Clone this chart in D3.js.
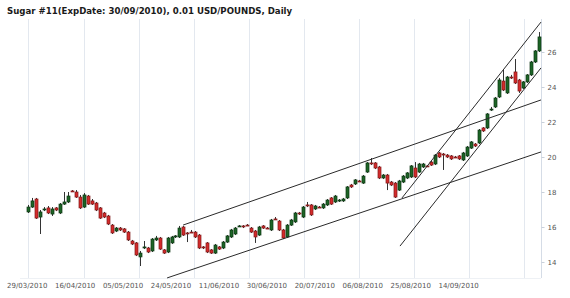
<!DOCTYPE html>
<html>
<head>
<meta charset="utf-8">
<script src="https://cdn.jsdelivr.net/npm/d3@7"></script>
<style>
  html, body { margin: 0; padding: 0; background: #fff; }
  svg { display: block; }
</style>
</head>
<body>
<svg id="chart" width="570" height="298"></svg>
<script>
// ---- data ----
const titleText = "Sugar #11(ExpDate: 30/09/2010), 0.01 USD/POUNDS, Daily";
const tickDates = ["29/03/2010","16/04/2010","05/05/2010","24/05/2010","11/06/2010","30/06/2010","20/07/2010","06/08/2010","25/08/2010","14/09/2010"];
const tickIndex = [0,12,24,36,48,60,72,84,96,108];
const yTicks = [14,16,18,20,22,24,26];

const openV = [16.86,17.14,17.60,16.57,17.00,17.09,16.74,17.09,16.80,17.31,17.43,18.06,18.00,17.71,17.14,17.77,17.49,17.37,17.09,16.80,
16.63,16.11,15.77,15.94,15.89,15.71,15.20,15.09,14.29,14.83,14.80,14.63,15.26,15.37,14.69,14.57,15.09,15.46,15.43,16.00,
15.66,15.71,15.71,15.54,14.86,15.09,14.69,14.51,14.86,14.80,15.14,15.43,15.60,16.03,16.06,16.11,15.94,15.77,15.54,16.06,
15.94,15.83,16.46,16.34,15.83,15.43,16.11,16.29,16.80,16.57,17.26,17.26,17.03,17.14,17.09,17.26,17.66,17.43,17.51,17.49,
17.66,18.40,18.46,18.63,18.51,19.14,19.66,19.66,19.43,18.80,18.97,18.57,18.51,18.11,18.57,18.80,18.86,19.37,19.14,19.43,
19.49,19.71,19.60,20.23,20.17,20.11,20.06,20.00,20.06,19.83,20.06,20.51,20.74,20.80,21.66,21.66,22.71,22.86,23.43,24.34,
23.66,24.57,24.86,24.40,23.94,24.29,24.69,25.43,26.06];
const highV = [17.26,17.66,17.66,16.97,17.14,17.20,17.14,17.14,17.37,18.00,18.00,18.11,18.11,17.83,17.94,17.83,17.60,17.43,17.14,16.86,
16.69,16.17,16.00,16.00,15.94,15.77,15.26,15.14,14.63,15.20,14.86,15.37,15.49,15.43,14.74,15.43,15.49,15.54,16.06,16.06,
15.71,15.83,15.77,15.60,14.91,15.14,14.74,15.03,14.91,15.20,15.54,15.89,16.00,16.11,16.11,16.17,16.00,15.83,16.06,16.11,
16.00,16.46,16.57,16.40,15.89,16.17,16.46,16.86,16.86,17.20,17.43,17.31,17.26,17.20,17.37,17.60,17.71,17.83,17.60,17.66,
18.34,18.46,18.74,18.69,18.97,19.71,19.94,19.71,19.49,19.03,19.03,18.63,18.57,18.69,18.97,19.14,19.54,19.71,19.66,19.66,
19.54,19.77,20.17,20.29,20.23,20.17,20.11,20.06,20.11,20.29,20.63,20.91,20.80,21.60,21.71,22.51,22.86,23.43,24.51,24.97,
24.63,24.69,25.60,24.46,24.34,24.74,25.49,26.11,27.14];
const lowV = [16.80,17.09,16.46,15.60,16.91,16.74,16.63,16.91,16.74,17.26,17.37,18.00,17.66,17.03,17.09,17.26,17.26,16.91,16.46,16.51,
16.11,15.60,15.71,15.77,15.66,15.20,14.97,14.34,13.77,14.74,14.51,14.57,15.20,14.69,14.46,14.51,15.03,15.37,15.37,15.49,
15.14,15.66,15.37,14.74,14.74,14.51,14.46,14.46,14.69,14.74,15.09,15.37,15.54,16.00,15.94,16.06,15.66,15.09,15.49,15.89,
15.89,15.77,16.40,15.77,15.31,15.37,16.06,16.23,16.69,16.51,17.14,16.63,16.97,17.09,17.03,17.20,17.26,17.37,17.43,17.43,
17.60,18.23,18.40,18.57,18.46,19.09,19.54,19.31,18.74,18.74,18.11,18.34,17.66,18.06,18.51,18.74,18.80,18.80,19.09,19.37,
19.43,19.49,19.54,19.94,19.26,19.94,19.83,19.94,19.83,19.77,20.00,20.46,20.57,20.74,21.43,21.60,22.63,22.80,23.37,23.77,
23.60,24.46,24.17,23.66,23.89,24.23,24.63,25.37,26.00];
const closeV = [17.14,17.49,16.51,16.86,17.03,16.80,17.03,16.97,17.31,17.43,17.77,18.03,17.71,17.09,17.83,17.31,17.31,16.97,16.51,16.57,
16.17,15.66,15.94,15.83,15.71,15.26,15.03,14.40,14.51,14.86,14.57,15.31,15.37,14.74,14.51,15.37,15.43,15.49,15.94,15.54,
15.63,15.69,15.43,14.80,14.83,14.57,14.51,14.97,14.74,15.14,15.49,15.83,15.94,16.06,16.03,16.09,15.71,15.43,16.00,15.94,
15.91,16.40,16.43,15.83,15.37,16.11,16.40,16.80,16.77,17.14,17.23,16.69,17.20,17.11,17.31,17.54,17.31,17.77,17.54,17.60,
18.29,18.29,18.69,18.60,18.91,19.66,19.63,19.37,18.80,18.97,18.51,18.40,17.71,18.63,18.91,19.09,19.49,18.86,19.60,19.60,
19.46,19.54,20.11,20.00,20.14,20.00,19.89,19.97,19.89,20.23,20.57,20.86,20.63,21.54,21.49,22.46,22.74,23.37,24.40,23.83,
24.57,24.54,24.23,23.77,24.29,24.69,25.43,26.06,26.86];

// trend lines drawn on the chart: [startIndex, startValue, endIndex, endValue]
const trendLines = [
  [38.9, 16.11, 128.5, 23.26],
  [34.9, 13.09, 128.5, 20.29],
  [93.7, 17.66, 128.5, 27.71],
  [93.2, 14.91, 128.5, 25.09]
];
// vertical grid every ~13.8 bars
const gridIndex = [0.2, 14.0, 27.8, 41.6, 55.4, 69.1, 82.9, 96.7, 110.5, 124.3];

// ---- chart ----
const plot = {left: 20, right: 541, top: 19, bottom: 278};
const svg = d3.select("#chart");

const data = openV.map((o, i) => ({i, o, h: highV[i], l: lowV[i], c: closeV[i]}));

const x = d3.scaleLinear().domain([0, data.length - 1]).range([27.7, 539]);
const y = d3.scaleLinear().domain([14, 26]).range([262, 52]);

// title
svg.append("text")
  .attr("x", 7).attr("y", 14)
  .attr("font-family", "Verdana, 'DejaVu Sans', sans-serif")
  .attr("font-size", "8.6px").attr("font-weight", "bold")
  .attr("fill", "#1a1a1a")
  .text(titleText);

// grid
svg.append("g").selectAll("line").data(gridIndex).join("line")
  .attr("x1", d => Math.round(x(d)) + 0.5).attr("x2", d => Math.round(x(d)) + 0.5)
  .attr("y1", plot.top).attr("y2", plot.bottom)
  .attr("stroke", "#e3e8ef").attr("stroke-width", 1);

// right axis line
svg.append("line")
  .attr("x1", plot.right + 0.5).attr("x2", plot.right + 0.5)
  .attr("y1", plot.top).attr("y2", plot.bottom)
  .attr("stroke", "#d5dce6");
svg.append("line")
  .attr("x1", plot.left).attr("x2", plot.right)
  .attr("y1", plot.bottom + 0.5).attr("y2", plot.bottom + 0.5)
  .attr("stroke", "#eef1f5");

// y axis (right)
const yAxis = d3.axisRight(y).tickValues(yTicks).tickSize(3).tickPadding(3).tickFormat(d3.format("d"));
const gy = svg.append("g").attr("transform", `translate(${plot.right + 0.5},0)`).call(yAxis);
gy.select(".domain").remove();
gy.selectAll("line").attr("stroke", "#c9d0da");
gy.selectAll("text").attr("font-family", "Verdana, 'DejaVu Sans', sans-serif")
  .attr("font-size", "7px").attr("fill", "#555");

// x axis (bottom)
const xAxis = d3.axisBottom(x).tickValues(tickIndex).tickSize(0).tickPadding(5)
  .tickFormat((d, k) => tickDates[k]);
const gx = svg.append("g").attr("transform", `translate(-1,${plot.bottom})`).call(xAxis);
gx.select(".domain").remove();
gx.selectAll("text").attr("font-family", "Verdana, 'DejaVu Sans', sans-serif")
  .attr("font-size", "7px").attr("fill", "#555");

// candles
const cg = svg.append("g");
cg.selectAll("line.wick").data(data).join("line")
  .attr("class", "wick")
  .attr("x1", d => Math.round(x(d.i)) + 0.5).attr("x2", d => Math.round(x(d.i)) + 0.5)
  .attr("y1", d => y(d.h)).attr("y2", d => y(d.l))
  .attr("stroke", "#333").attr("stroke-width", 1);

cg.selectAll("rect").data(data).join("rect")
  .attr("x", d => Math.round(x(d.i)) - 1)
  .attr("width", 3)
  .attr("y", d => Math.min(y(d.o), y(d.c)))
  .attr("height", d => Math.max(1, Math.abs(y(d.o) - y(d.c))))
  .attr("fill", d => d.c >= d.o ? "#1c6526" : "#d42b2b")
  .attr("stroke", d => d.c >= d.o ? "#0c3512" : "#7e1818")
  .attr("stroke-width", 0.7);

// trend lines
svg.append("g").selectAll("line").data(trendLines).join("line")
  .attr("x1", d => x(d[0])).attr("y1", d => y(d[1]))
  .attr("x2", d => x(d[2])).attr("y2", d => y(d[3]))
  .attr("stroke", "#2a2a2a").attr("stroke-width", 1);
</script>
</body>
</html>
